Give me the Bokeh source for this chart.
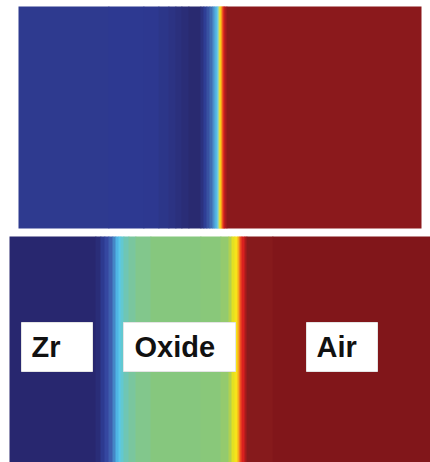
import numpy as np
from bokeh.plotting import figure
from bokeh.models import Range1d
from bokeh.core.properties import value
from bokeh.embed import file_html
from bokeh.resources import INLINE

# ---- data: colour bands across depth (position units along each panel) ----
top_edges = [0, 90, 125, 140, 150, 157, 163, 170, 182, 185, 188, 191, 194, 196,
             198, 199, 200, 201, 202, 203, 204, 205, 206, 208, 403]
top_colors = ["#2E3A8F", "#2D3991", "#2D3890", "#2C3689", "#2C3383", "#2B307D",
              "#2A2D77", "#292A70", "#2B3280", "#2F3E95", "#3852A2", "#406CB2",
              "#4A90CC", "#52B0E0", "#5BC6EA", "#86CFD0", "#C8DC6A", "#F4E21C",
              "#F8B81C", "#F37A20", "#E53A20", "#D4211F", "#A81B1D", "#8B191C"]

bottom_edges = [0, 86, 91, 95, 99, 103, 106, 109, 111, 114, 119, 126, 141, 191,
                211, 219, 222, 225, 228, 230, 232, 235, 237, 263, 421]
bottom_colors = ["#28276F", "#2A2D78", "#2D3A90", "#3547A0", "#3E5EAE", "#4586C6",
                 "#4FB4E4", "#5BC8EA", "#63C8D0", "#6FC6B4", "#7AC69E", "#82C78C",
                 "#86C77E", "#89C87A", "#94CA6E", "#B2D14E", "#E2E022", "#F6E31A",
                 "#F6A81C", "#EE4C22", "#D8211F", "#A81A1C", "#861A1C", "#81161A"]

region_labels = ["Zr", "Oxide", "Air"]

# ---- layout constants (page pixels, y measured downward) ----
TOP_X0, TOP_Y0, TOP_Y1 = 18, 6, 228
BOT_X0, BOT_Y0, BOT_Y1 = 9, 236, 462

p = figure(width=430, height=462, x_range=Range1d(0, 430), y_range=Range1d(462, 0),
           output_backend="svg", toolbar_location=None,
           x_axis_location=None, y_axis_location=None,
           min_border_left=0, min_border_right=0,
           min_border_top=0, min_border_bottom=0)
p.grid.visible = False
p.outline_line_color = None
p.background_fill_color = "white"
p.border_fill_color = "white"


def bands(edges, colors, x0, y0, y1):
    e = np.asarray(edges, dtype=float)
    left = x0 + e[:-1]
    right = x0 + e[1:]
    right[:-1] += 0.8  # small overlap hides anti-aliasing seams
    p.quad(left=left, right=right, bottom=y1, top=y0,
           fill_color=colors, line_color=None)


bands(top_edges, top_colors, TOP_X0, TOP_Y0, TOP_Y1)
bands(bottom_edges, bottom_colors, BOT_X0, BOT_Y0, BOT_Y1)

# ---- region labels ----
box_left = [21, 123, 306]
box_right = [92, 235, 377]
text_x = [31, 134, 316]
p.quad(left=box_left, right=box_right, bottom=371, top=322,
       fill_color="white", line_color="#E4E4E4", line_width=1)
p.text(x=text_x, y=[346] * 3, text=region_labels,
       text_font=value("Liberation Sans"), text_font_style="bold",
       text_font_size="29px", text_color="#111111",
       text_align="left", text_baseline="alphabetic")

open("out.html", "w").write(file_html(p, INLINE))
